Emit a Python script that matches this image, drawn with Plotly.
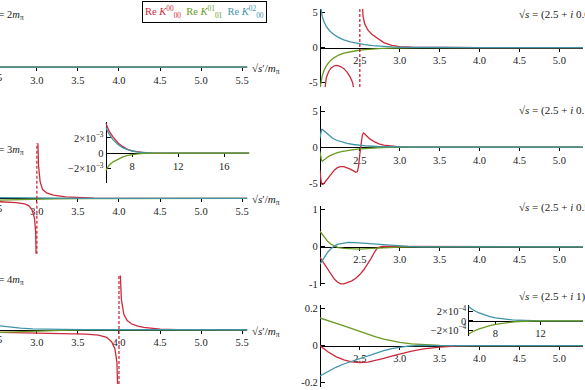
import plotly.graph_objects as go

W, H = 585, 390
RED, GREEN, BLUE = "#cc2a3c", "#6a9a22", "#3f94a8"
FONT = "Times New Roman, Liberation Serif, DejaVu Serif, serif"

# ---------------- data ----------------
series_names = ["Re <i>K</i><sup>00</sup><sub>00</sub>",
                "Re <i>K</i><sup>01</sup><sub>01</sub>",
                "Re <i>K</i><sup>02</sup><sub>00</sub>"]
left_titles = ["√<i>s</i> = 2<i>m</i><sub>π</sub>", "√<i>s</i> = 3<i>m</i><sub>π</sub>",
               "√<i>s</i> = 4<i>m</i><sub>π</sub>"]
right_titles = ["√<i>s</i> = (2.5 + <i>i</i> 0.01) <i>m</i><sub>π</sub>",
                "√<i>s</i> = (2.5 + <i>i</i> 0.1) <i>m</i><sub>π</sub>",
                "√<i>s</i> = (2.5 + <i>i</i> 0.5) <i>m</i><sub>π</sub>",
                "√<i>s</i> = (2.5 + <i>i</i> 1) <i>m</i><sub>π</sub>"]
left_xticks = [3.0, 3.5, 4.0, 4.5, 5.0, 5.5]
left_clipped_tick = 2.5
right_xticks = [2.5, 3.0, 3.5, 4.0, 4.5, 5.0]
inset_xticks = [8, 12, 16]

# left panel 1 (sqrt s = 2 m_pi)
l1_x = [2.0, 3.0, 4.0, 5.0, 5.6]
l1_red = [0, 0, 0, 0, 0]
l1_green = [0, 0, 0, 0, 0]
l1_blue = [0, 0, 0, 0, 0]

# left panel 2 (sqrt s = 3 m_pi)
l2_red_x = [2.55, 2.65, 2.75, 2.85, 2.9, 2.94, 2.97, 2.985, 2.995, None,
            3.005, 3.01, 3.02, 3.04, 3.07, 3.12, 3.2, 3.35, 3.5, 3.7, 4.0, 4.5, 5.6]
l2_red_y = [-0.6, -0.65, -0.75, -1.0, -1.3, -2.0, -3.5, -6.0, -14, None,
            14, 10, 6, 3, 1.6, 1.0, 0.6, 0.3, 0.15, 0.06, 0.02, 0, 0]
l2_green_x = [2.55, 2.7, 2.85, 3.0, 3.2, 3.5, 4.0, 5.6]
l2_green_y = [-0.3, -0.22, -0.15, -0.1, -0.05, -0.02, 0, 0]
l2_blue_x = [2.55, 2.8, 3.0, 3.3, 3.6, 4.0, 5.6]
l2_blue_y = [0.15, 0.1, 0.07, 0.03, 0.01, 0, 0]

# left panel 3 (sqrt s = 4 m_pi)
l3_red_x = [2.55, 2.8, 3.1, 3.4, 3.6, 3.75, 3.85, 3.91, 3.95, 3.975, 3.99, None,
            4.005, 4.015, 4.03, 4.06, 4.1, 4.15, 4.22, 4.3, 4.4, 4.5, 4.7, 5.0, 5.6]
l3_red_y = [-0.5, -0.55, -0.6, -0.7, -0.8, -1.0, -1.4, -2.2, -3.5, -6, -14, None,
            14, 9, 5.5, 2.8, 1.7, 1.1, 0.7, 0.45, 0.25, 0.12, 0.04, 0.01, 0]
l3_green_x = [2.55, 2.7, 2.9, 3.1, 3.3, 3.6, 4.0, 5.6]
l3_green_y = [-0.5, -0.4, -0.28, -0.18, -0.1, -0.04, 0, 0]
l3_blue_x = [2.55, 2.65, 2.8, 2.95, 3.1, 3.3, 3.6, 4.0, 5.6]
l3_blue_y = [0.7, 0.5, 0.3, 0.17, 0.1, 0.05, 0.02, 0, 0]

# inset in left panel 2
i1_x = [5.7, 6.0, 6.35, 6.8, 7.2, 7.6, 8.0, 8.5, 9.0, 9.5, 10, 11, 12, 14, 18.2]
i1_red = [4.0e-3, 2.9e-3, 2.1e-3, 1.3e-3, 0.85e-3, 0.5e-3, 0.3e-3, 0.15e-3, 0.07e-3,
          0.03e-3, 0.01e-3, 0, 0, 0, 0]
i1_blue = [3.5e-3, 2.5e-3, 1.75e-3, 1.1e-3, 0.7e-3, 0.45e-3, 0.28e-3, 0.14e-3, 0.07e-3,
           0.03e-3, 0.01e-3, 0, 0, 0, 0]
i1_green = [-2.3e-3, -1.6e-3, -1.15e-3, -0.75e-3, -0.5e-3, -0.3e-3, -0.17e-3, -0.09e-3,
            -0.04e-3, -0.02e-3, -0.01e-3, 0, 0, 0, 0]

# right panel 1
r1_x = [2.0, 2.01, 2.03, 2.05, 2.08, 2.12, 2.17, 2.23, 2.3, 2.38, 2.47, 2.56, 2.66,
        2.78, 2.9, 3.05, 3.3, 3.6, 4.0, 5.3]
r1_blue = [6.5, 5.5, 4.4, 3.7, 3.0, 2.4, 1.9, 1.45, 1.1, 0.82, 0.6, 0.42, 0.28, 0.16,
           0.09, 0.04, 0.01, 0, 0, 0]
r1_green = [-6.5, -5.2, -4.0, -3.3, -2.6, -2.0, -1.5, -1.1, -0.8, -0.6, -0.42, -0.3,
            -0.2, -0.12, -0.07, -0.03, -0.01, 0, 0, 0]
r1_red_x = [2.04, 2.06, 2.08, 2.11, 2.14, 2.18, 2.22, 2.26, 2.3, 2.34, 2.38, 2.41, 2.44,
            2.46, None, 2.525, 2.53, 2.54, 2.56, 2.6, 2.65, 2.7, 2.8, 2.9, 3.0, 3.15,
            3.4, 3.7, 4.0, 5.3]
r1_red_y = [-8, -5.6, -4.3, -3.4, -2.9, -2.6, -2.55, -2.7, -3.0, -3.5, -4.2, -5.0, -6.2,
            -8, None, 8, 6, 4.5, 3.4, 2.5, 1.9, 1.5, 0.7, 0.3, 0.12, 0.04, 0.01, 0, 0, 0]

# right panel 2
r2_x = [2.0, 2.005, 2.012, 2.02, 2.03, 2.045, 2.065, 2.09, 2.12, 2.16, 2.21, 2.27, 2.34,
        2.42, 2.5, 2.6, 2.72, 2.85, 3.0, 3.3, 3.7, 5.3]
r2_blue = [1.2, 1.7, 2.2, 2.45, 2.45, 2.3, 2.05, 1.8, 1.5, 1.22, 0.95, 0.72, 0.52, 0.36,
           0.25, 0.15, 0.08, 0.04, 0.02, 0.005, 0, 0]
r2_green = [-0.6, -1.0, -1.5, -1.85, -1.95, -1.85, -1.65, -1.45, -1.22, -1.0, -0.8,
            -0.62, -0.47, -0.35, -0.25, -0.16, -0.09, -0.05, -0.02, -0.005, 0, 0]
r2_red_x = [2.0, 2.007, 2.015, 2.025, 2.035, 2.05, 2.07, 2.1, 2.14, 2.18, 2.22, 2.26,
            2.3, 2.34, 2.38, 2.42, 2.45, 2.47, 2.485, 2.5, 2.515, 2.53, 2.545, 2.56,
            2.59, 2.63, 2.68, 2.74, 2.8, 2.88, 2.97, 3.1, 3.3, 3.6, 5.3]
r2_red_y = [-3.2, -4.2, -4.8, -5.15, -5.2, -5.05, -4.75, -4.3, -3.7, -3.2, -2.85, -2.7,
            -2.72, -2.85, -3.05, -3.3, -3.5, -3.4, -2.6, -1.0, 0.6, 1.6, 1.95, 1.85,
            1.5, 1.1, 0.75, 0.45, 0.28, 0.15, 0.07, 0.02, 0.005, 0, 0]

# right panel 3
r3_green_x = [2.0, 2.02, 2.04, 2.07, 2.1, 2.14, 2.18, 2.23, 2.3, 2.4, 2.5, 2.6, 2.7,
              2.85, 3.0, 3.2, 5.3]
r3_green_y = [0.42, 0.36, 0.3, 0.21, 0.14, 0.07, 0.02, -0.02, -0.045, -0.06, -0.06,
              -0.05, -0.035, -0.02, -0.01, 0, 0]
r3_blue_x = [2.0, 2.02, 2.04, 2.07, 2.1, 2.14, 2.18, 2.23, 2.3, 2.36, 2.45, 2.55, 2.65,
             2.8, 2.95, 3.1, 3.3, 5.3]
r3_blue_y = [-0.47, -0.4, -0.33, -0.23, -0.14, -0.05, 0.02, 0.07, 0.105, 0.12, 0.115,
             0.1, 0.08, 0.05, 0.025, 0.01, 0, 0]
r3_red_x = [2.0, 2.03, 2.06, 2.1, 2.14, 2.18, 2.22, 2.26, 2.3, 2.35, 2.4, 2.45, 2.5,
            2.55, 2.6, 2.64, 2.68, 2.72, 2.78, 2.9, 3.1, 5.3]
r3_red_y = [-0.28, -0.38, -0.5, -0.63, -0.76, -0.87, -0.95, -1.0, -1.0, -0.97, -0.92,
            -0.85, -0.75, -0.62, -0.47, -0.32, -0.16, -0.03, 0.01, 0.01, 0, 0]

# right panel 4
r4_green_x = [2.0, 2.1, 2.2, 2.3, 2.4, 2.5, 2.6, 2.7, 2.8, 2.9, 3.0, 3.15, 3.3, 3.5,
              3.8, 5.3]
r4_green_y = [0.15, 0.137, 0.122, 0.107, 0.092, 0.076, 0.061, 0.047, 0.035, 0.025,
              0.017, 0.009, 0.004, 0.001, 0, 0]
r4_red_x = [2.0, 2.05, 2.1, 2.2, 2.3, 2.4, 2.5, 2.6, 2.7, 2.8, 2.9, 3.0, 3.15, 3.3, 3.5,
            3.7, 4.0, 5.3]
r4_red_y = [0, -0.018, -0.034, -0.06, -0.078, -0.088, -0.092, -0.09, -0.082, -0.07,
            -0.057, -0.045, -0.03, -0.018, -0.008, -0.003, 0, 0]
r4_blue_x = [2.0, 2.1, 2.2, 2.3, 2.4, 2.5, 2.6, 2.7, 2.8, 2.9, 3.0, 3.1, 3.25, 3.5, 5.3]
r4_blue_y = [-0.165, -0.14, -0.118, -0.1, -0.085, -0.07, -0.055, -0.04, -0.027, -0.016,
             -0.008, -0.003, 0.001, 0, 0]

# inset in right panel 4
i2_x = [5.6, 6.0, 6.5, 7.0, 7.5, 8.0, 8.5, 9.0, 9.5, 10, 11, 12, 14, 16]
i2_blue = [3.1e-4, 2.4e-4, 1.75e-4, 1.28e-4, 0.92e-4, 0.65e-4, 0.45e-4, 0.3e-4,
           0.19e-4, 0.12e-4, 0.04e-4, 0, 0, 0]
i2_green = [-2.9e-4, -2.3e-4, -1.8e-4, -1.4e-4, -1.05e-4, -0.78e-4, -0.55e-4, -0.38e-4,
            -0.25e-4, -0.15e-4, -0.05e-4, 0, 0, 0]

pole_lines = {2: 3.0, 3: 4.0, 4: 2.5}   # panel index -> pole position

# ---------------- layout geometry (pixels) ----------------
LX = (0, 248)
RX = (321, 585)
LXR = [2.551, 5.561]
panels = [
    dict(xpx=LX, ypx=(20, 112), xr=LXR, yr=[-10, 10], xt=left_xticks, yt=None),
    dict(xpx=LX, ypx=(143, 255), xr=LXR, yr=[-10, 10], xt=left_xticks, yt=None),
    dict(xpx=LX, ypx=(277, 387), xr=LXR, yr=[-10, 10], xt=left_xticks, yt=None),
    dict(xpx=RX, ypx=(7, 86), xr=[2.0, 5.296], yr=[-5.6, 5.5], xt=right_xticks,
         yt=([-5, 0, 5], ["-5", "0", "5"])),
    dict(xpx=RX, ypx=(105, 187), xr=[2.0, 5.296], yr=[-5.48, 5.75], xt=right_xticks,
         yt=([-5, 0, 5], ["-5", "0", "5"])),
    dict(xpx=RX, ypx=(207, 288), xr=[2.0, 5.296], yr=[-1.067, 1.093], xt=right_xticks,
         yt=([-1, 0, 1], ["-1", "0", "1"])),
    dict(xpx=RX, ypx=(307, 390), xr=[2.0, 5.296], yr=[-0.225, 0.22], xt=right_xticks,
         yt=([-0.2, 0, 0.2], ["-0.2", "0", "0.2"])),
    dict(xpx=(106, 250), ypx=(122, 183), xr=[5.7, 18.15], yr=[-3.9e-3, 4.05e-3],
         xt=inset_xticks, yt=([-2e-3, 0, 2e-3], ["−2×10<sup>−3</sup>", "0", "2×10<sup>−3</sup>"])),
    dict(xpx=(470, 585), ypx=(307, 338), xr=[5.6, 15.78], yr=[-3.2e-4, 3.4e-4],
         xt=inset_xticks, yt=([-2e-4, 0, 2e-4], ["−2×10<sup>−4</sup>", "0", "2×10<sup>−4</sup>"])),
]

series = {
    1: [(l1_x, l1_red, RED), (l1_x, l1_green, GREEN), (l1_x, l1_blue, BLUE)],
    2: [(l2_red_x, l2_red_y, RED), (l2_green_x, l2_green_y, GREEN), (l2_blue_x, l2_blue_y, BLUE)],
    3: [(l3_red_x, l3_red_y, RED), (l3_green_x, l3_green_y, GREEN), (l3_blue_x, l3_blue_y, BLUE)],
    4: [(r1_red_x, r1_red_y, RED), (r1_x, r1_green, GREEN), (r1_x, r1_blue, BLUE)],
    5: [(r2_red_x, r2_red_y, RED), (r2_x, r2_green, GREEN), (r2_x, r2_blue, BLUE)],
    6: [(r3_red_x, r3_red_y, RED), (r3_green_x, r3_green_y, GREEN), (r3_blue_x, r3_blue_y, BLUE)],
    7: [(r4_red_x, r4_red_y, RED), (r4_green_x, r4_green_y, GREEN), (r4_blue_x, r4_blue_y, BLUE)],
    8: [(i1_x, i1_red, RED), (i1_x, i1_blue, BLUE), (i1_x, i1_green, GREEN)],
    9: [(i2_x, i2_blue, BLUE), (i2_x, i2_green, GREEN)],
}


def zero_paper(p):
    top, bot = p["ypx"]
    lo, hi = p["yr"]
    py = top + (hi - 0) / (hi - lo) * (bot - top)
    return 1 - py / H


def x_paper(p, v):
    a, b = p["xpx"]
    lo, hi = p["xr"]
    return (a + (v - lo) / (hi - lo) * (b - a)) / W


fig = go.Figure()
layout = {}
shapes = []
annotations = []
tickfont = dict(family=FONT, size=10.5, color="#222")

for i, p in enumerate(panels, start=1):
    xa = "xaxis" if i == 1 else f"xaxis{i}"
    ya = "yaxis" if i == 1 else f"yaxis{i}"
    xr_ = "x" if i == 1 else f"x{i}"
    yr_ = "y" if i == 1 else f"y{i}"
    layout[xa] = dict(
        domain=[p["xpx"][0] / W, p["xpx"][1] / W], range=p["xr"], anchor="free",
        position=zero_paper(p), showline=True, linecolor="black", linewidth=1,
        tickvals=p["xt"], ticktext=[f"{v:.1f}" if i <= 7 else f"{v:g}" for v in p["xt"]],
        ticks="outside", ticklen=3, tickcolor="black", showgrid=False, zeroline=False,
        tickfont=tickfont, layer="below traces", fixedrange=True)
    yd = dict(domain=[1 - p["ypx"][1] / H, 1 - p["ypx"][0] / H], range=p["yr"],
              anchor="free", position=p["xpx"][0] / W, showgrid=False, zeroline=False,
              fixedrange=True)
    if p["yt"] is None:
        yd["visible"] = False
    else:
        yd.update(showline=True, linecolor="black", linewidth=1, tickvals=p["yt"][0],
                  ticktext=p["yt"][1], ticks="inside", ticklen=4, tickcolor="black",
                  tickfont=tickfont, layer="below traces")
    layout[ya] = yd
    for (xs, ys, col) in series[i]:
        fig.add_trace(go.Scatter(x=xs, y=ys, xaxis=xr_, yaxis=yr_, mode="lines",
                                 line=dict(color=col, width=1.3), connectgaps=False,
                                 showlegend=False, hoverinfo="skip"))
    if i in pole_lines:
        shapes.append(dict(type="line", xref=xr_, yref=f"{yr_} domain",
                           x0=pole_lines[i], x1=pole_lines[i], y0=0, y1=1,
                           line=dict(color=RED, width=1.3, dash="3px,2px")))

# titles of left panels
for k, (t, ypx) in enumerate(zip(left_titles, [14, 150, 282])):
    annotations.append(dict(text=t, xref="paper", yref="paper", x=26 / W, y=1 - ypx / H,
                            xanchor="right", yanchor="middle", showarrow=False,
                            font=dict(family=FONT, size=10.5, color="#222")))
# titles of right panels
for t, ypx in zip(right_titles, [13, 110, 209, 299]):
    annotations.append(dict(text=t, xref="paper", yref="paper", x=519 / W, y=1 - ypx / H,
                            xanchor="left", yanchor="middle", showarrow=False,
                            font=dict(family=FONT, size=11, color="#222")))
# axis label of left panels + clipped 2.5 tick label
for i in (1, 2, 3):
    p = panels[i - 1]
    annotations.append(dict(text="√<i>s</i>′/<i>m</i><sub>π</sub>", xref="paper", yref="paper",
                            x=251 / W, y=zero_paper(p) - 2 / H, xanchor="left",
                            yanchor="middle", showarrow=False,
                            font=dict(family=FONT, size=11, color="#222")))
    annotations.append(dict(text=f"{left_clipped_tick:.1f}", xref="paper", yref="paper",
                            x=x_paper(p, left_clipped_tick), y=zero_paper(p) - 10 / H,
                            xanchor="center", yanchor="middle", showarrow=False,
                            font=tickfont))
# legend box
colors = [RED, GREEN, BLUE]
leg = "  ".join(f"<span style='color:{c}'>{n}</span>" for n, c in zip(series_names, colors))
annotations.append(dict(text=leg, xref="paper", yref="paper", x=205 / W, y=1 - 10 / H,
                        xanchor="center", yanchor="middle", showarrow=False,
                        bordercolor="black", borderwidth=1, borderpad=2, bgcolor="white",
                        font=dict(family=FONT, size=10.5)))

fig.update_layout(**layout)
fig.update_layout(width=W, height=H, margin=dict(l=0, r=0, t=0, b=0),
                  paper_bgcolor="white", plot_bgcolor="rgba(0,0,0,0)",
                  shapes=shapes, annotations=annotations, showlegend=False)
fig.write_html("out.html", config={"displayModeBar": False},
               post_script="document.body.style.margin='0';document.body.style.overflow='hidden';")
